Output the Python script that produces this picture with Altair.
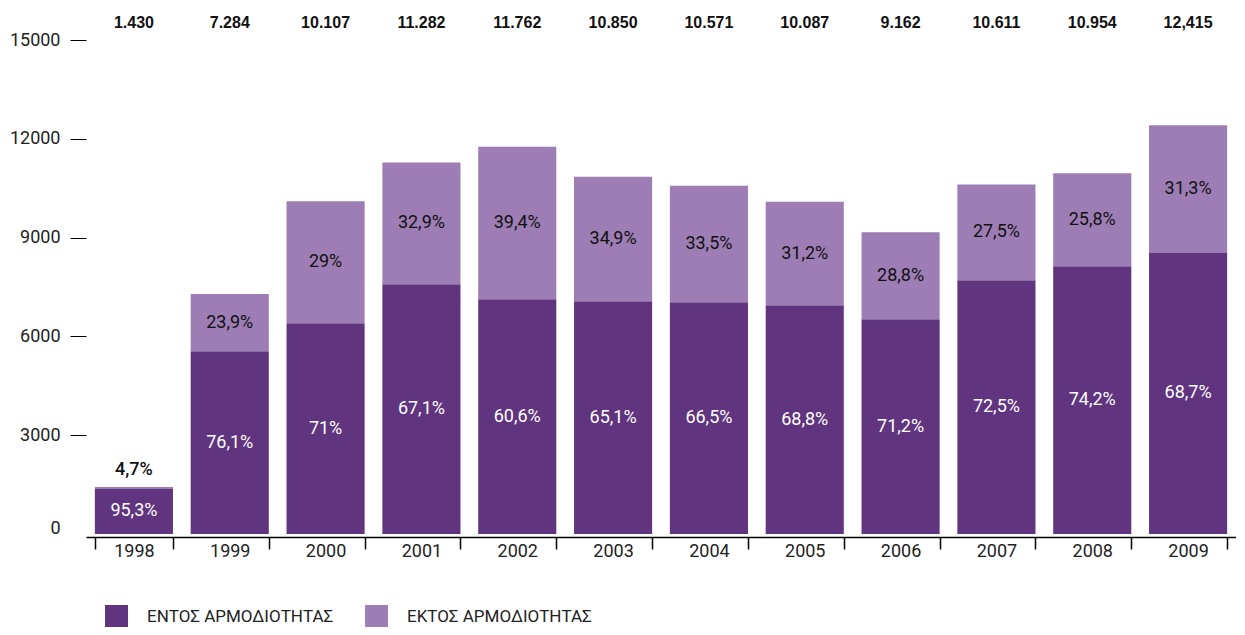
import altair as alt
import pandas as pd

years = ["1998", "1999", "2000", "2001", "2002", "2003", "2004", "2005", "2006", "2007", "2008", "2009"]
inside_vals = [1370, 5550, 6400, 7580, 7130, 7065, 7035, 6945, 6520, 7705, 8130, 8535]
outside_vals = [60, 1734, 3707, 3702, 4632, 3785, 3536, 3142, 2642, 2906, 2824, 3880]
totals_txt = ["1.430", "7.284", "10.107", "11.282", "11.762", "10.850", "10.571", "10.087", "9.162", "10.611", "10.954", "12,415"]
inside_pct = ["95,3%", "76,1%", "71%", "67,1%", "60,6%", "65,1%", "66,5%", "68,8%", "71,2%", "72,5%", "74,2%", "68,7%"]
outside_pct = ["4,7%", "23,9%", "29%", "32,9%", "39,4%", "34,9%", "33,5%", "31,2%", "28,8%", "27,5%", "25,8%", "31,3%"]

CAT_IN = "ΕΝΤΟΣ ΑΡΜΟΔΙΟΤΗΤΑΣ"
CAT_OUT = "ΕΚΤΟΣ ΑΡΜΟΔΙΟΤΗΤΑΣ"
DARK = "#60347e"
LIGHT = "#9d7db4"
FONT = "Roboto"

rows = []
for i, y in enumerate(years):
    rows.append({"year": y, "cat": CAT_IN, "value": inside_vals[i], "ord": 0})
    rows.append({"year": y, "cat": CAT_OUT, "value": outside_vals[i], "ord": 1})
long_df = pd.DataFrame(rows)

lab = pd.DataFrame({
    "year": years,
    "inside": inside_vals,
    "outside": outside_vals,
    "total_txt": totals_txt,
    "in_pct": inside_pct,
    "out_pct": outside_pct,
})
lab["total"] = lab["inside"] + lab["outside"]
lab["in_mid"] = lab["inside"] / 2
lab["out_mid"] = lab["inside"] + lab["outside"] / 2

xscale = alt.Scale(paddingInner=0.185, paddingOuter=0.0925)
yscale = alt.Scale(domain=[0, 15000], nice=False)

xenc = alt.X("year:N", sort=years, title=None, scale=xscale,
             axis=alt.Axis(orient="bottom", offset=3, domain=True, domainColor="#000", domainWidth=1.5,
                           tickColor="#000", tickSize=12, tickWidth=1.5, tickBand="extent",
                           labelFont=FONT, labelFontSize=18, labelColor="#222",
                           labelPadding=-7, labelAngle=0, grid=False))

bars = alt.Chart(long_df).mark_bar().encode(
    x=xenc,
    y=alt.Y("value:Q", stack="zero", scale=yscale, title=None,
            axis=alt.Axis(values=[0, 3000, 6000, 9000, 12000, 15000], format="d",
                          domain=False, grid=False,
                          tickColor="#000", tickSize=16, tickWidth=1,
                          tickOpacity={"condition": {"test": "datum.value === 0", "value": 0}, "value": 1},
                          labelOffset={"condition": {"test": "datum.value === 0", "value": -6}, "value": 0},
                          labelFont=FONT, labelFontSize=18, labelColor="#222", labelPadding=10)),
    color=alt.Color("cat:N", scale=alt.Scale(domain=[CAT_IN, CAT_OUT], range=[DARK, LIGHT]),
                    legend=alt.Legend(title=None, orient="none", legendX=19, legendY=565,
                                      direction="horizontal", columns=2, symbolType="square",
                                      symbolSize=529, symbolStrokeWidth=0, symbolOpacity=1,
                                      labelFont=FONT, labelFontSize=17, labelColor="#222",
                                      labelLimit=0, labelOffset=19, columnPadding=31, padding=0)),
    order=alt.Order("ord:Q", sort="ascending"),
)

base = alt.Chart(lab)
xt = alt.X("year:N", sort=years, scale=xscale, title=None)

in_text = base.mark_text(font=FONT, fontSize=18, color="white", baseline="middle").encode(
    x=xt, y=alt.Y("in_mid:Q", scale=yscale, title=None), text="in_pct:N")

out_text = base.transform_filter("datum.outside >= 600").mark_text(
    font=FONT, fontSize=18, color="#111", baseline="middle").encode(
    x=xt, y=alt.Y("out_mid:Q", scale=yscale, title=None), text="out_pct:N")

out_small = base.transform_filter("datum.outside < 600").mark_text(
    font=FONT, fontSize=18, fontWeight=500, color="#111", baseline="bottom", dy=-8).encode(
    x=xt, y=alt.Y("total:Q", scale=yscale, title=None), text="out_pct:N")

top_text = base.mark_text(font="Liberation Sans", fontSize=16, fontWeight="bold",
                          color="#111", baseline="middle").encode(
    x=xt, y=alt.value(-17), text="total_txt:N")

chart = alt.layer(bars, in_text, out_text, out_small, top_text).properties(
    width=1150, height=494,
    background="white",
    autosize=alt.AutoSizeParams(type="none"),
    padding={"left": 78, "top": 32, "right": 0, "bottom": 93},
).configure_view(stroke=None)

chart.save("out.html", embed_options={"renderer": "svg", "actions": False})
